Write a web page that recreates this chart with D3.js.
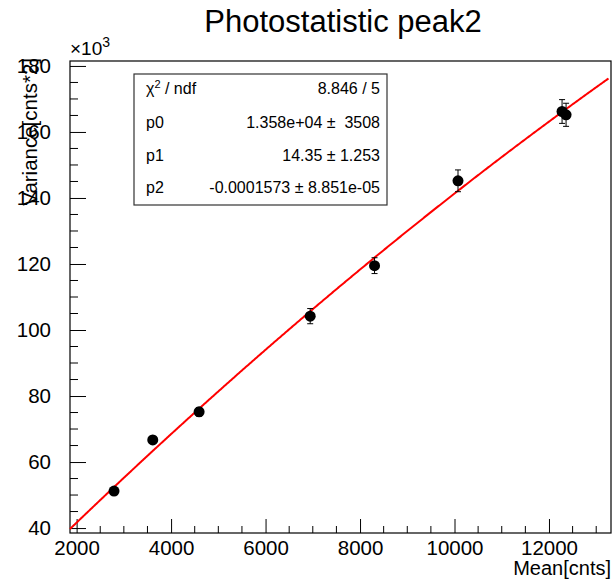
<!DOCTYPE html>
<html>
<head>
<meta charset="utf-8">
<script src="https://cdn.jsdelivr.net/npm/d3@7"></script>
<style>
  html, body { margin: 0; padding: 0; background: #fff; }
  svg { display: block; font-family: "Liberation Sans", Arial, Helvetica, sans-serif; }
</style>
</head>
<body>
<svg id="chart" width="613" height="579"></svg>
<script>
// Measured points: mean signal vs. its variance
const meanCounts = [2792, 3612, 4593, 6945, 8307, 10074, 12277, 12362];
const varianceCounts = [51200, 66700, 75200, 104200, 119500, 145200, 166200, 165200];
const varianceErrors = [900, 1100, 1300, 2300, 2400, 3300, 3600, 3500];

// Second-order polynomial fit: p0 + p1*x + p2*x^2
const fitParams = { p0: 1.358e4, p1: 14.35, p2: -0.0001573 };
const statsRows = [
  ["χ² / ndf", "8.846 / 5"],
  ["p0", "1.358e+04 ±  3508"],
  ["p1", "14.35 ± 1.253"],
  ["p2", "-0.0001573 ± 8.851e-05"]
];

const xTicks = [2000, 4000, 6000, 8000, 10000, 12000];
const yTicks = [40000, 60000, 80000, 100000, 120000, 140000, 160000, 180000];

const svg = d3.select("#chart");
const frame = { left: 70, right: 611, top: 61, bottom: 533 };

const x = d3.scaleLinear().domain([1860, 13313]).range([frame.left, frame.right]);
const y = d3.scaleLinear().domain([38500, 181500]).range([frame.bottom, frame.top]);

// Title
svg.append("text")
  .attr("x", 343).attr("y", 32)
  .attr("text-anchor", "middle")
  .attr("font-size", 31)
  .text("Photostatistic peak2");

// Frame
svg.append("rect")
  .attr("x", frame.left).attr("y", frame.top)
  .attr("width", frame.right - frame.left).attr("height", frame.bottom - frame.top)
  .attr("fill", "none").attr("stroke", "#000").attr("stroke-width", 1.2);

// X axis: major ticks every 2000, minor every 500, ticks point inward
const xMinor = d3.range(2000, 13313, 500).filter(v => v % 2000 !== 0);
const xAxisG = svg.append("g").attr("transform", `translate(0,${frame.bottom})`);
xAxisG.call(d3.axisBottom(x).tickValues(xTicks).tickSize(-14).tickPadding(20).tickFormat(d3.format("d")));
xAxisG.select(".domain").remove();
xAxisG.selectAll("text").attr("font-size", 20.5).attr("fill", "#000").attr("font-family", null).attr("dy", "0.1em");
xAxisG.selectAll("line").attr("stroke", "#000");
xAxisG.selectAll(".minor").data(xMinor).enter().append("line")
  .attr("class", "minor")
  .attr("x1", d => x(d)).attr("x2", d => x(d))
  .attr("y1", 0).attr("y2", -7).attr("stroke", "#000");

// Y axis: major ticks every 20k, minor every 5k, labels in units of 10^3
const yMinor = d3.range(40000, 181500, 5000).filter(v => v % 20000 !== 0);
const yAxisG = svg.append("g").attr("transform", `translate(${frame.left},0)`);
yAxisG.call(d3.axisLeft(y).tickValues(yTicks).tickSize(-16).tickPadding(19).tickFormat(d => d / 1000));
yAxisG.select(".domain").remove();
yAxisG.selectAll("text").attr("font-size", 20.5).attr("fill", "#000").attr("font-family", null);
yAxisG.selectAll("line").attr("stroke", "#000");
yAxisG.selectAll(".minor").data(yMinor).enter().append("line")
  .attr("class", "minor")
  .attr("y1", d => y(d)).attr("y2", d => y(d))
  .attr("x1", 0).attr("x2", 8).attr("stroke", "#000");

// Exponent marker above the y axis
const expo = svg.append("text").attr("x", 70).attr("y", 55).attr("font-size", 19);
expo.append("tspan").text("×10");
expo.append("tspan").attr("dy", -8).attr("font-size", 14).text("3");

// Axis titles
svg.append("text")
  .attr("x", 611).attr("y", 575)
  .attr("text-anchor", "end")
  .attr("font-size", 20)
  .text("Mean[cnts]");
svg.append("text")
  .attr("transform", "translate(37,58) rotate(-90)")
  .attr("text-anchor", "end")
  .attr("font-size", 20.5)
  .text("Variance[cnts*2]");

// Fit curve
const fitFn = v => fitParams.p0 + fitParams.p1 * v + fitParams.p2 * v * v;
const fitX = d3.range(1860, 13260, 20).concat([13260]);
svg.append("path")
  .datum(fitX)
  .attr("fill", "none")
  .attr("stroke", "#ff0000")
  .attr("stroke-width", 2)
  .attr("d", d3.line().x(d => x(d)).y(d => y(fitFn(d))));

// Data points with vertical error bars
const pts = meanCounts.map((m, i) => ({ m, v: varianceCounts[i], e: varianceErrors[i] }));
const g = svg.append("g");
g.selectAll(".err").data(pts).enter().append("line")
  .attr("x1", d => x(d.m)).attr("x2", d => x(d.m))
  .attr("y1", d => y(d.v - d.e)).attr("y2", d => y(d.v + d.e))
  .attr("stroke", "#000").attr("stroke-width", 1);
g.selectAll(".capTop").data(pts).enter().append("line")
  .attr("x1", d => x(d.m) - 3).attr("x2", d => x(d.m) + 3)
  .attr("y1", d => y(d.v + d.e)).attr("y2", d => y(d.v + d.e))
  .attr("stroke", "#000").attr("stroke-width", 1);
g.selectAll(".capBot").data(pts).enter().append("line")
  .attr("x1", d => x(d.m) - 3).attr("x2", d => x(d.m) + 3)
  .attr("y1", d => y(d.v - d.e)).attr("y2", d => y(d.v - d.e))
  .attr("stroke", "#000").attr("stroke-width", 1);
g.selectAll("circle").data(pts).enter().append("circle")
  .attr("cx", d => x(d.m)).attr("cy", d => y(d.v))
  .attr("r", 5.5).attr("fill", "#000");

// Fit statistics box
const box = { x: 134, y: 74, w: 253, h: 131 };
svg.append("rect")
  .attr("x", box.x).attr("y", box.y).attr("width", box.w).attr("height", box.h)
  .attr("fill", "#fff").attr("stroke", "#333").attr("stroke-width", 1.2);
const rowY = [94, 128, 161, 193];
statsRows.forEach((r, i) => {
  const left = svg.append("text").attr("x", 146).attr("y", rowY[i]).attr("font-size", 16);
  if (i === 0) {
    left.append("tspan").text("χ");
    left.append("tspan").attr("dy", -6).attr("font-size", 11).text("2");
    left.append("tspan").attr("dy", 6).text(" / ndf");
  } else {
    left.text(r[0]);
  }
  svg.append("text").attr("x", 380).attr("y", rowY[i]).attr("font-size", 16)
    .attr("text-anchor", "end").attr("xml:space", "preserve").text(r[1]);
});
</script>
</body>
</html>
